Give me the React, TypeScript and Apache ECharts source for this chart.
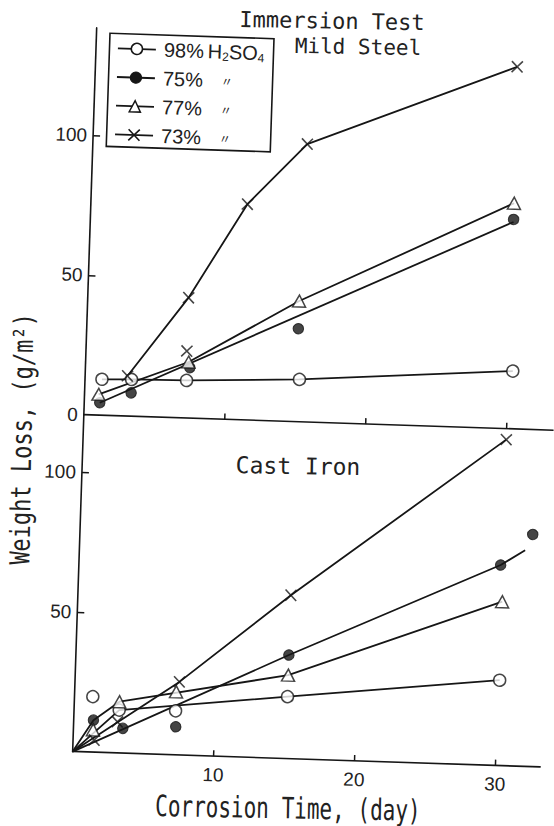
import { useEffect, useRef } from "react";
import * as echarts from "echarts";

// ---------- data (day, weight loss g/m²) ----------
const SERIES_NAMES = ["98% H2SO4", "75% H2SO4", "77% H2SO4", "73% H2SO4"];
const DAY_TICKS = [10, 20, 30];
const TOP_Y_LABELS = [0, 50, 100];
const TOP_Y_TICKS = [50, 100];
const BOTTOM_Y_LABELS = [50, 100];

// Mild steel (upper panel)
const mildSteel98 = [[1.2, 12.9], [3.3, 13.2], [7.2, 13.5], [15.2, 15.2], [30.3, 20.7]];
const mildSteel98Fit = [[1.2, 12.9], [3.3, 13.2], [7.2, 13.5], [15.2, 15.2], [30.3, 20.7]];
const mildSteel75 = [[1.1, 4.5], [3.3, 8.4], [7.4, 18.1], [15.0, 33.3], [30.0, 74.9]];
const mildSteel75Fit = [[1.1, 4.5], [30.0, 74.0]];
const mildSteel77 = [[1.0, 7.5], [7.3, 20.1], [15.0, 43.2], [30.0, 80.7]];
const mildSteel77Fit = [[1.0, 7.5], [7.3, 20.1], [15.0, 43.2], [30.0, 80.7]];
const mildSteel73 = [[3.0, 14.4], [7.15, 24.0], [7.15, 43.1], [11.1, 77.2], [15.2, 99.4], [29.9, 129.5]];
const mildSteel73Fit = [[3.0, 14.4], [7.15, 43.1], [11.1, 77.2], [15.2, 99.4], [29.9, 129.5]];

// Cast iron (lower panel)
const castIron98 = [[1.3, 19.9], [3.2, 15.4], [7.2, 15.8], [15.1, 22.2], [30.1, 30.6]];
const castIron98Fit = [[0, 0], [3.2, 15.4], [15.1, 22.2], [30.1, 30.6]];
const castIron75 = [[1.4, 11.5], [3.5, 8.9], [7.25, 10.1], [15.1, 37.1], [29.9, 71.8], [32.1, 83.1]];
const castIron75Fit = [[0, 0], [15.1, 37.1], [29.9, 71.8], [31.6, 77.4]];
const castIron77 = [[1.4, 8.0], [3.2, 18.4], [7.2, 22.6], [15.1, 29.9], [30.1, 58.7]];
const castIron77Fit = [[0, 0], [1.4, 11.5], [3.2, 18.4], [15.1, 29.9], [30.1, 58.7]];
const castIron73 = [[1.5, 4.4], [3.1, 11.2], [7.4, 26.2], [15.1, 58.5], [30.0, 116.7]];
const castIron73Fit = [[0, 0], [7.4, 26.2], [15.1, 58.5], [30.0, 116.7]];

// ---------- styling ----------
const INK = "#161616";
const TEXT = "#222";
const NUM_FONT = "'Liberation Sans', Arial, sans-serif";
const MONO = "'DejaVu Sans Mono', monospace";
const CROSS = "path://M0,0L10,10M10,0L0,10";
const TEXT_TILT = 0.9 * Math.PI / 180;

const markerStyles = [
  { symbol: "circle", size: 12, itemStyle: { color: "#fff", borderColor: INK, borderWidth: 1.5 } },
  { symbol: "circle", size: 10.5, itemStyle: { color: INK, borderColor: INK, borderWidth: 1 } },
  { symbol: "triangle", size: [13, 12], itemStyle: { color: "#fff", borderColor: INK, borderWidth: 1.5 } },
  { symbol: CROSS, size: 11, itemStyle: { color: "rgba(0,0,0,0)", borderColor: INK, borderWidth: 1.6 } },
];

const topSets = [
  [mildSteel98, mildSteel98Fit],
  [mildSteel75, mildSteel75Fit],
  [mildSteel77, mildSteel77Fit],
  [mildSteel73, mildSteel73Fit],
];
const bottomSets = [
  [castIron98, castIron98Fit],
  [castIron75, castIron75Fit],
  [castIron77, castIron77Fit],
  [castIron73, castIron73Fit],
];

function buildSeries() {
  const lines: any[] = [];
  const scatters: any[] = [];
  [topSets, bottomSets].forEach((sets, panel) => {
    sets.forEach(([pts, fit], i) => {
      const st = markerStyles[i];
      lines.push({
        type: "line",
        name: SERIES_NAMES[i],
        xAxisIndex: panel,
        yAxisIndex: panel,
        data: fit,
        showSymbol: false,
        symbol: st.symbol,
        itemStyle: st.itemStyle,
        lineStyle: { color: INK, width: 1.8 },
        z: 2,
        silent: true,
      });
      scatters.push({
        type: "scatter",
        name: SERIES_NAMES[i],
        xAxisIndex: panel,
        yAxisIndex: panel,
        data: pts,
        symbol: st.symbol,
        symbolSize: st.size,
        itemStyle: st.itemStyle,
        z: 3,
        silent: true,
      });
    });
  });
  return [...lines, ...scatters];
}

const labelFont = { fontFamily: NUM_FONT, fontSize: 19, color: TEXT };

function buildOption() {
  return {
    animation: false,
    backgroundColor: "transparent",
    grid: [
      { left: 84, top: 34.1, width: 470, height: 387.1 },
      { left: 84, top: 421.4, width: 467.7, height: 336.8 },
    ],
    xAxis: [
      {
        type: "value", gridIndex: 0, min: 0, max: 33.33,
        axisLine: { lineStyle: { color: INK, width: 1.6 } },
        axisTick: { inside: true, length: 6, customValues: DAY_TICKS, lineStyle: { color: INK, width: 1.5 } },
        axisLabel: { show: false },
        splitLine: { show: false },
      },
      {
        type: "value", gridIndex: 1, min: 0, max: 33.17,
        axisLine: { lineStyle: { color: INK, width: 1.6 } },
        axisTick: { inside: true, length: 6, customValues: DAY_TICKS, lineStyle: { color: INK, width: 1.5 } },
        axisLabel: {
          ...labelFont, margin: 9, customValues: DAY_TICKS,
          formatter: (v: number) => (DAY_TICKS.includes(v) ? String(v) : ""),
        },
        splitLine: { show: false },
      },
    ],
    yAxis: [
      {
        type: "value", gridIndex: 0, min: 0, max: 138.4,
        axisLine: { lineStyle: { color: INK, width: 1.6 } },
        axisTick: { inside: true, length: 7, customValues: TOP_Y_TICKS, lineStyle: { color: INK, width: 1.5 } },
        axisLabel: {
          ...labelFont, margin: 6, customValues: TOP_Y_LABELS,
          formatter: (v: number) => (TOP_Y_LABELS.includes(v) ? String(v) : ""),
        },
        splitLine: { show: false },
      },
      {
        type: "value", gridIndex: 1, min: 0, max: 120.5,
        axisLine: { lineStyle: { color: INK, width: 1.6 } },
        axisTick: { inside: true, length: 7, customValues: BOTTOM_Y_LABELS, lineStyle: { color: INK, width: 1.5 } },
        axisLabel: {
          ...labelFont, margin: 6, customValues: BOTTOM_Y_LABELS,
          formatter: (v: number) => (BOTTOM_Y_LABELS.includes(v) ? String(v) : ""),
        },
        splitLine: { show: false },
      },
    ],
    legend: {
      orient: "vertical",
      left: 97.5,
      top: 39,
      padding: [3.8, 9, 1.3, 7.5],
      itemGap: 6.7,
      itemWidth: 38,
      itemHeight: 14,
      selectedMode: false,
      borderColor: INK,
      borderWidth: 1.6,
      borderRadius: 0,
      data: SERIES_NAMES.map((name, i) => ({
        name,
        itemStyle: markerStyles[i].itemStyle,
        lineStyle: { color: INK, width: 1.8 },
      })),
      formatter: (name: string) =>
        name === SERIES_NAMES[0]
          ? "{a|98%}{b|H}{s|2}{b|SO}{s|4}"
          : `{a|${name.split(" ")[0]}}{d|〃}`,
      textStyle: {
        fontFamily: NUM_FONT,
        fontSize: 20,
        color: TEXT,
        lineHeight: 22,
        rich: {
          a: { fontFamily: NUM_FONT, fontSize: 20, lineHeight: 22, width: 44, padding: [0, 0, 0, 3], color: TEXT },
          b: { fontFamily: NUM_FONT, fontSize: 20, lineHeight: 22, color: TEXT },
          s: { fontFamily: NUM_FONT, fontSize: 12, lineHeight: 12, verticalAlign: "bottom", color: TEXT },
          d: { fontFamily: "'Noto Sans CJK JP', sans-serif", fontSize: 12, lineHeight: 22, width: 40, align: "center", color: TEXT },
        },
      },
    },
    graphic: [
      {
        type: "text", x: 319, y: 19.4, rotation: TEXT_TILT,
        style: { text: "Immersion Test", font: `22px ${MONO}`, fill: TEXT, align: "center", verticalAlign: "middle" },
      },
      {
        type: "text", x: 345.8, y: 44.5, rotation: TEXT_TILT,
        style: { text: "Mild Steel", font: `21px ${MONO}`, fill: TEXT, align: "center", verticalAlign: "middle" },
      },
      {
        type: "text", x: 299.8, y: 465.3, rotation: TEXT_TILT,
        style: { text: "Cast Iron", font: `23px ${MONO}`, fill: TEXT, align: "center", verticalAlign: "middle" },
      },
      {
        type: "text", x: 301, y: 807.4, rotation: TEXT_TILT, scaleY: 1.4,
        style: { text: "Corrosion Time, (day)", font: `21px ${MONO}`, fill: TEXT, align: "center", verticalAlign: "middle" },
      },
      {
        type: "text", x: 23, y: 447.4, rotation: Math.PI / 2 + TEXT_TILT, scaleY: 1.25,
        style: { text: "Weight Loss, (g/m²)", font: `22px ${MONO}`, fill: TEXT, align: "center", verticalAlign: "middle" },
      },
    ],
    series: buildSeries(),
  };
}

export default function App() {
  const ref = useRef<HTMLDivElement>(null);
  useEffect(() => {
    if (!ref.current) return;
    const chart = echarts.init(ref.current, null, { renderer: "svg" });
    chart.setOption(buildOption() as any);
    return () => chart.dispose();
  }, []);
  return (
    <div
      ref={ref}
      style={{
        position: "absolute",
        left: 0,
        top: 0,
        width: 554,
        height: 826,
        transform: "rotate(1.9deg)",
        transformOrigin: "277px 413px",
      }}
    />
  );
}
